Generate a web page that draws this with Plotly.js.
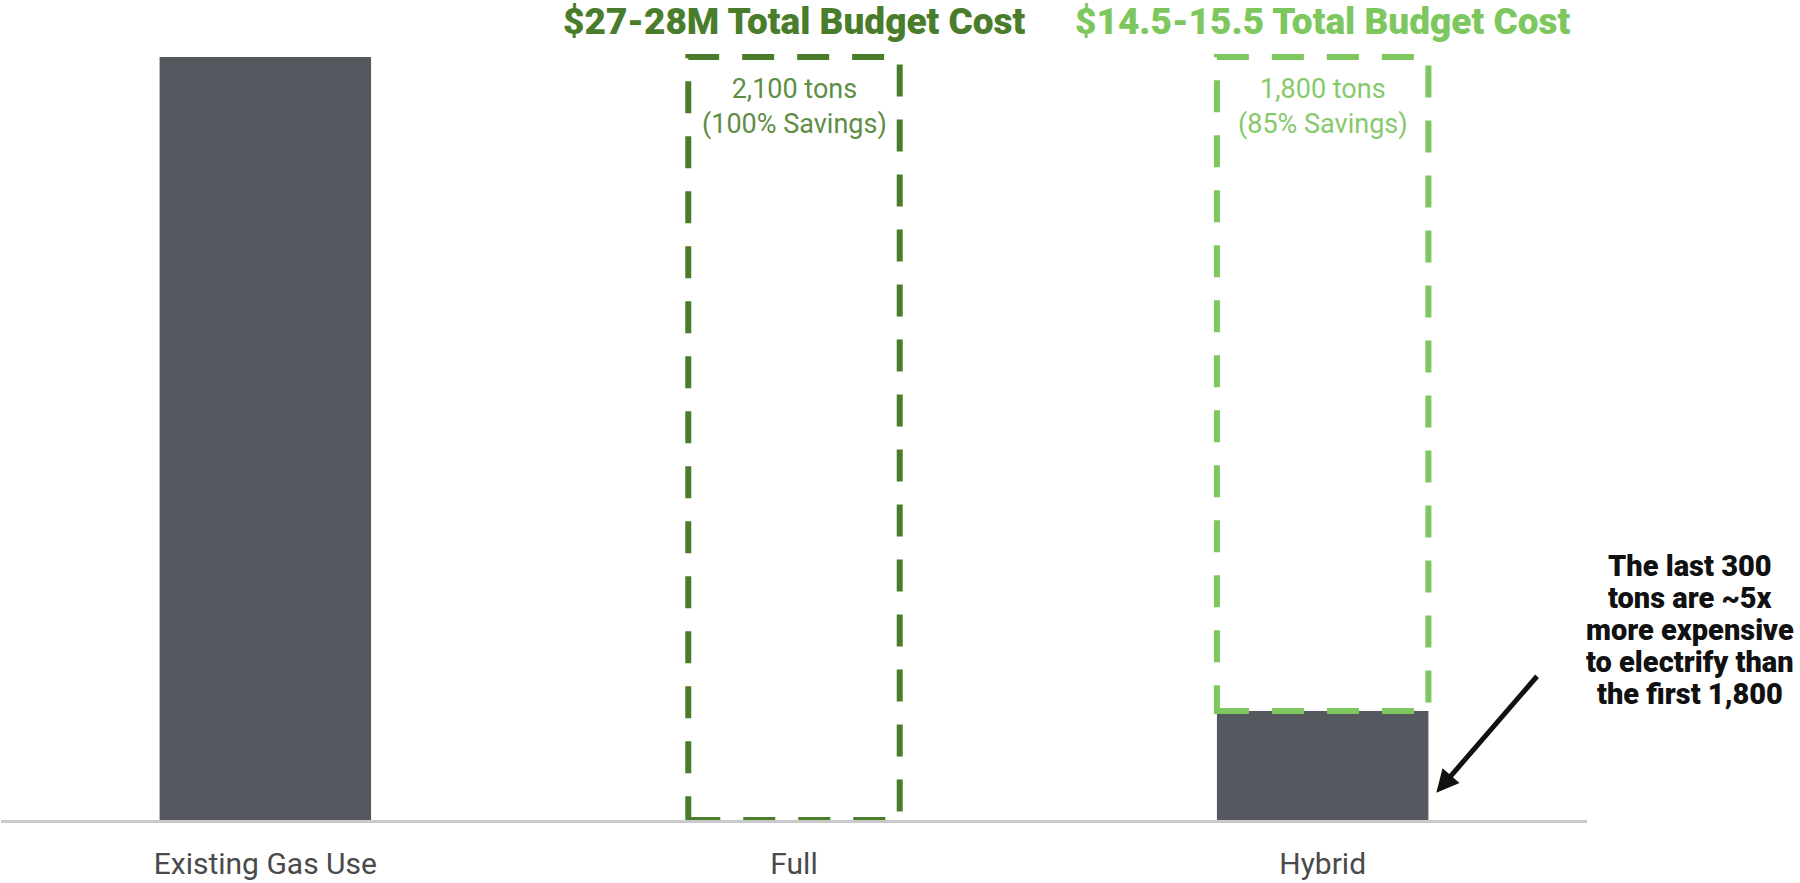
<!DOCTYPE html>
<html>
<head>
<meta charset="utf-8">
<script src="https://cdn.plot.ly/plotly-3.0.1.min.js"></script>
<style>
  html, body { margin: 0; padding: 0; background: #fff; }
  #plot { width: 1800px; height: 883px; }
</style>
</head>
<body>
<div id="plot"></div>
<script>
// chart data
const categories = ["Existing Gas Use", "Full", "Hybrid"];
const remainingTons = [2100, 0, 300];     // grey bars: gas use that stays
const savedTons = [0, 2100, 1800];         // dashed boxes: tons saved
const savedText = ["", "2,100 tons", "1,800 tons"];
const savingsPct = ["", "100% Savings", "85% Savings"];
const budgetText = ["", "$27-28M Total Budget Cost", "$14.5-15.5 Total Budget Cost"];
const noteLines = ["The last 300", "tons are ~5x", "more expensive", "to electrify than", "the first 1,800"];

const barGrey = "#55585e";
const boxColors = [null, "#4a7d2b", "#7dc75e"];
const innerColors = [null, "#5e8d45", "#86c96b"];
const barWidth = 0.4;

const trace = {
    x: categories,
    y: remainingTons,
    type: "bar",
    width: barWidth,
    marker: { color: barGrey },
    hoverinfo: "skip"
};

const shapes = [];
const annotations = [];

for (let i = 0; i < categories.length; i++) {
    if (!savedTons[i]) continue;
    const top = remainingTons[i] + savedTons[i];

    // dashed outline for the tons that get saved
    shapes.push({
        type: "rect", xref: "x", yref: "y",
        x0: i - barWidth / 2, x1: i + barWidth / 2,
        y0: remainingTons[i], y1: top,
        line: { color: boxColors[i], width: 6, dash: "32px,23px" },
        fillcolor: "rgba(0,0,0,0)"
    });

    annotations.push({
        x: categories[i], y: top, xref: "x", yref: "y",
        text: savedText[i] + "<br>(" + savingsPct[i] + ")",
        showarrow: false, yanchor: "top", yshift: -14,
        font: { family: "Roboto, sans-serif", size: 27, color: innerColors[i] }
    });

    annotations.push({
        x: categories[i], y: top, xref: "x", yref: "y",
        text: budgetText[i],
        showarrow: false, yanchor: "bottom", yshift: 12,
        font: { family: "Roboto, sans-serif", size: 37, weight: 900, color: boxColors[i] }
    });
}

// side note, one annotation per line to keep the lines tight
noteLines.forEach(function (line, k) {
    annotations.push({
        x: 1.065, y: 0.31 - k * 0.039, xref: "paper", yref: "paper",
        text: line,
        showarrow: false, xanchor: "center", yanchor: "middle",
        font: { family: "Roboto, sans-serif", size: 29, weight: 900, color: "#111" }
    });
});

annotations.push({
    x: 2 + barWidth / 2 + 0.015, y: remainingTons[2] / 4, xref: "x", yref: "y",
    text: "", showarrow: true,
    arrowhead: 2, arrowsize: 0.9, arrowwidth: 5, arrowcolor: "#111",
    ax: 102, ay: -118
});

const layout = {
    width: 1800, height: 883,
    margin: { l: 1, r: 213, t: 0, b: 63 },
    paper_bgcolor: "#fff", plot_bgcolor: "#fff",
    showlegend: false,
    xaxis: {
        type: "category",
        range: [-0.5, 2.5],
        showline: true, linecolor: "#c9c9c9", linewidth: 3,
        ticks: "outside", ticklen: 15, tickcolor: "rgba(0,0,0,0)",
        tickfont: { family: "Roboto, sans-serif", size: 30, color: "#4a4a4a" },
        showgrid: false, zeroline: false
    },
    yaxis: {
        range: [0, 2257],
        visible: false,
        showgrid: false, zeroline: false
    },
    shapes: shapes,
    annotations: annotations
};

Plotly.newPlot("plot", [trace], layout, { staticPlot: true });
</script>
</body>
</html>
